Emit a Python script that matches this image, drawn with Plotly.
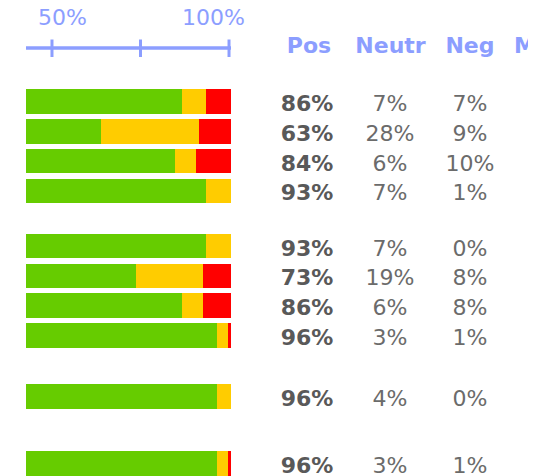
import plotly.graph_objects as go

# ---------------- data ----------------
pos_pct = [86, 63, 84, 93, 93, 73, 86, 96, 96, 96]
neutr_pct = [7, 28, 6, 7, 7, 19, 6, 3, 4, 3]
neg_pct = [7, 9, 10, 1, 0, 8, 8, 1, 0, 1]
group_sizes = [4, 4, 1, 1]
headers = ["Pos", "Neutr", "Neg", "M"]
scale_ticks = [50, 75, 100]
scale_labels = ["50%", "100%"]

# ---------------- layout constants ----------------
PAGE_W, PAGE_H = 554, 476
OFF = 8                      # page body margin
W, H = PAGE_W - OFF, PAGE_H - OFF
ROW_TOP = 101.5              # pixel centre of first row (page pixels)
ROW_PITCH = 29.8
GROUP_GAPS = [0.85, 1.05, 1.25]
BAR_H = 24.5
BAR_L, BAR_R = 26, 231       # page pixels of bar area
CLIP_R = 528
GREEN, YELLOW, RED = "#66cc00", "#ffcc00", "#ff0000"
BLUE = "#8c9eff"
TXT_BOLD, TXT = "#595959", "#6b6b6b"
FONT = "DejaVu Sans"


def px(v):
    return (v - OFF) / W


rows_y = []
slot = 0.0
for gi, n in enumerate(group_sizes):
    for k in range(n):
        rows_y.append(ROW_TOP + ROW_PITCH * slot)
        slot += 1
    if gi < len(GROUP_GAPS):
        slot += GROUP_GAPS[gi]

fig = go.Figure()

for vals, col, name in [(pos_pct, GREEN, "Pos"), (neutr_pct, YELLOW, "Neutr"), (neg_pct, RED, "Neg")]:
    fig.add_trace(go.Bar(
        x=vals, y=rows_y, orientation="h", width=BAR_H,
        marker=dict(color=col, line=dict(width=0)), name=name,
        xaxis="x", yaxis="y", hoverinfo="skip"))

COL_X = [307, 390, 470]
TY = 4
fig.add_trace(go.Scatter(
    x=[COL_X[0]] * len(rows_y), y=[y + TY for y in rows_y], mode="text",
    text=[f"{v}%" for v in pos_pct], textposition="middle center",
    textfont=dict(family=FONT, size=22, color=TXT_BOLD, weight="bold"),
    xaxis="x2", yaxis="y", cliponaxis=True, hoverinfo="skip"))
for cx, vals in [(COL_X[1], neutr_pct), (COL_X[2], neg_pct)]:
    fig.add_trace(go.Scatter(
        x=[cx] * len(rows_y), y=[y + TY for y in rows_y], mode="text",
        text=[f"{v}%" for v in vals], textposition="middle center",
        textfont=dict(family=FONT, size=22, color=TXT),
        xaxis="x2", yaxis="y", cliponaxis=True, hoverinfo="skip"))

HEAD_X = [309, 390.5, 470, 525]
fig.add_trace(go.Scatter(
    x=HEAD_X, y=[47] * len(headers), mode="text", text=headers,
    textposition="middle center",
    textfont=dict(family=FONT, size=22, color=BLUE, weight="bold"),
    xaxis="x2", yaxis="y", cliponaxis=True, hoverinfo="skip"))

fig.add_trace(go.Scatter(x=[scale_ticks[0]], y=[48], mode="markers",
                         marker=dict(opacity=0), xaxis="x3", yaxis="y", hoverinfo="skip"))

shapes = [dict(type="line", xref="paper", yref="y", x0=px(BAR_L), x1=px(BAR_R), y0=48, y1=48,
               line=dict(color=BLUE, width=3.5))]
for t in scale_ticks:
    shapes.append(dict(type="line", xref="x3", yref="y", x0=t, x1=t, y0=39.5, y1=57,
                       line=dict(color=BLUE, width=3)))

annotations = []
for lab, cx in zip(scale_labels, [62, 213]):
    annotations.append(dict(x=cx, y=17.5, xref="x2", yref="y", text=lab, showarrow=False,
                            xanchor="center", yanchor="middle",
                            font=dict(family=FONT, size=22, color=BLUE)))

fig.update_layout(
    width=W, height=H, margin=dict(l=0, r=0, t=0, b=0),
    paper_bgcolor="white", plot_bgcolor="rgba(0,0,0,0)",
    barmode="stack", bargap=0, showlegend=False,
    xaxis=dict(domain=[px(BAR_L), px(BAR_R)], range=[41.5, 100], visible=False, fixedrange=True),
    xaxis2=dict(domain=[0, px(CLIP_R)], range=[OFF, CLIP_R], visible=False,
                anchor="y", fixedrange=True),
    xaxis3=dict(domain=[px(BAR_L), px(BAR_R)], range=[42.66, 100.56], visible=False,
                anchor="y", fixedrange=True),
    yaxis=dict(domain=[0, 1], range=[PAGE_H, OFF], visible=False, fixedrange=True),
    shapes=shapes, annotations=annotations,
)

fig.write_html("out.html")
